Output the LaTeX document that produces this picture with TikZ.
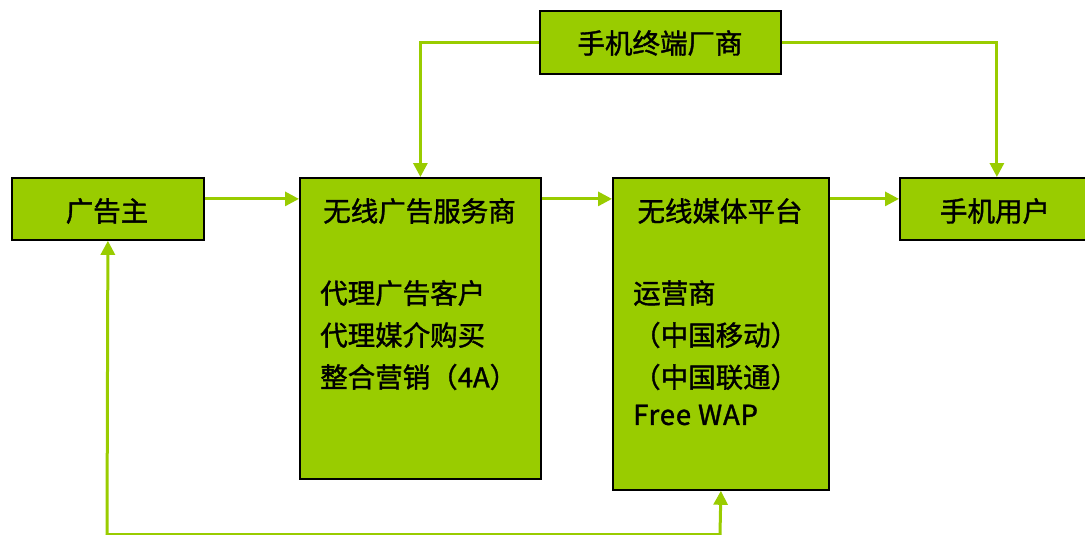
\documentclass[tikz,border=0pt]{standalone}
\usepackage{fontspec}
\setmainfont{Noto Sans CJK SC}[AutoFakeBold=1.3]
\usetikzlibrary{arrows.meta}
\definecolor{lg}{HTML}{99CC00}
\tikzset{
  box/.style={draw=black,line width=1.8pt,fill=lg,inner sep=0pt,anchor=north west},
  conn/.style={draw=lg,line width=3pt},
  arr/.style={conn,-{Triangle[length=14pt,width=14pt]}},
  lbl/.style={font=\fontsize{27.5}{30}\selectfont\bfseries,inner sep=0pt},
  txt/.style={lbl,anchor=west}
}
\begin{document}
\begin{tikzpicture}[x=1pt,y=-1pt]
\useasboundingbox (0,0) rectangle (1085,535);
\node[box,minimum width=192pt,minimum height=62pt] (ad) at (11,177) {};
\node[box,minimum width=241pt,minimum height=301pt] (svc) at (299,177) {};
\node[box,minimum width=216pt,minimum height=312pt] (media) at (612,177) {};
\node[box,minimum width=188pt,minimum height=62pt] (user) at (899,177) {};
\node[box,minimum width=241pt,minimum height=63pt] (maker) at (539,10) {};
\node[lbl] (adt) at (107,211) {广告主};
\node[lbl] (usert) at (995,211) {手机用户};
\node[lbl] (makert) at (660,43) {手机终端厂商};
\node[lbl] (svct) at (419.5,211) {无线广告服务商};
\node[lbl] (mediat) at (720,211) {无线媒体平台};
\node[txt] (s1) at (320,293) {代理广告客户};
\node[txt] (s2) at (320,335) {代理媒介购买};
\node[txt] (s3) at (320,377) {整合营销（4A）};
\node[txt] (m1) at (633,293) {运营商};
\node[txt] (m2) at (633,335) {（中国移动）};
\node[txt] (m3) at (633,377) {（中国联通）};
\node[txt,font=\fontsize{27.5}{30}\selectfont\bfseries\addfontfeatures{LetterSpace=3}] (m4) at (633,415) {Free WAP};
\draw[arr] ([yshift=10pt]ad.east) -- ([yshift=10pt]svc.north west |- ad.east);
\draw[arr] ([yshift=10pt]svc.east |- ad.east) -- ([yshift=10pt]media.west |- ad.east);
\draw[arr] ([yshift=10pt]media.east |- ad.east) -- ([yshift=10pt]user.west);
\draw[arr] (maker.west) -| (svc.north);
\draw[arr] (maker.east) -| ([xshift=3pt]user.north);
\coordinate (b1) at (107,534.5);
\coordinate (b2) at (720,534.5);
\draw[conn,{Triangle[length=14pt,width=14pt]}-{Triangle[length=14pt,width=14pt]}] (ad.south) -- (b1) -- (b2) -- (media.south);
\end{tikzpicture}
\end{document}
